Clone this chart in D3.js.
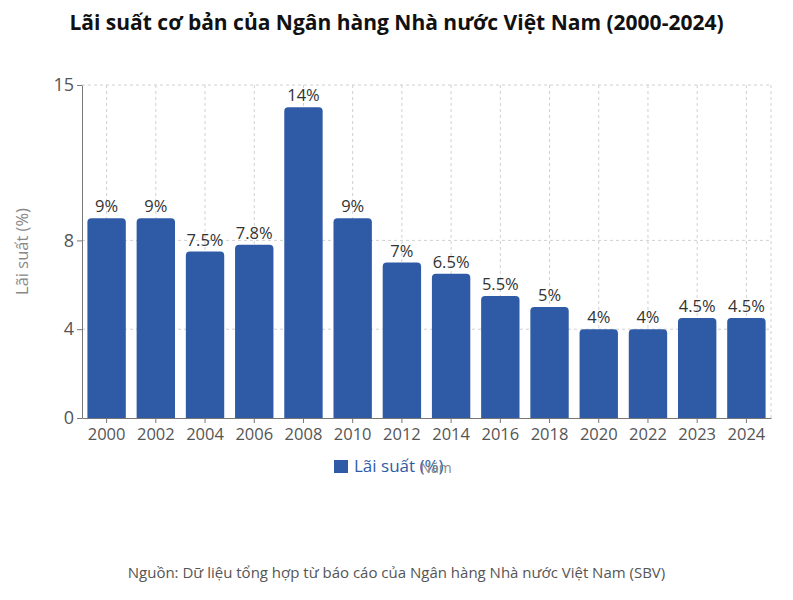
<!DOCTYPE html>
<html>
<head>
<meta charset="utf-8">
<script src="https://cdn.jsdelivr.net/npm/d3@7"></script>
<style>
  body { margin: 0; background: #fff; }
  text { font-family: "Open Sans", "Noto Sans", sans-serif; }
</style>
</head>
<body>
<div id="chart"></div>
<script>
const years = ["2000", "2002", "2004", "2006", "2008", "2010", "2012", "2014", "2016", "2018", "2020", "2022", "2023", "2024"];
const rates = [9, 9, 7.5, 7.8, 14, 9, 7, 6.5, 5.5, 5, 4, 4, 4.5, 4.5];
const yTicks = [0, 4, 8, 15];

const width = 793;
const height = 600;
const margin = { top: 85, right: 22, bottom: 182, left: 82 };
const barColor = "#2f5ba6";

const svg = d3.select("#chart")
  .append("svg")
  .attr("width", width)
  .attr("height", height);

// Title
svg.append("text")
  .attr("x", width / 2)
  .attr("y", 30)
  .attr("text-anchor", "middle")
  .attr("font-size", "21px")
  .attr("font-weight", "bold")
  .attr("fill", "#111")
  .text("Lãi suất cơ bản của Ngân hàng Nhà nước Việt Nam (2000-2024)");

const x = d3.scaleBand()
  .domain(years)
  .range([margin.left, width - margin.right])
  .paddingInner(0.22)
  .paddingOuter(0.11);

const y = d3.scaleLinear()
  .domain([0, 15])
  .range([height - margin.bottom, margin.top]);

const grid = svg.append("g").attr("stroke", "#d0d0d0").attr("stroke-dasharray", "3,3");

// horizontal grid
yTicks.filter((t) => t > 0).forEach((t) => {
  grid.append("line")
    .attr("x1", margin.left).attr("x2", width - margin.right)
    .attr("y1", y(t)).attr("y2", y(t));
});
// vertical grid
years.forEach((yr) => {
  const cx = x(yr) + x.bandwidth() / 2;
  grid.append("line")
    .attr("x1", cx).attr("x2", cx)
    .attr("y1", margin.top).attr("y2", y(0));
});
grid.append("line")
  .attr("x1", width - margin.right).attr("x2", width - margin.right)
  .attr("y1", margin.top).attr("y2", y(0));

// Bars with rounded top corners
const r = 4;
const barPath = (x0, y0, w, h) =>
  `M${x0},${y0 + h}V${y0 + r}Q${x0},${y0} ${x0 + r},${y0}H${x0 + w - r}Q${x0 + w},${y0} ${x0 + w},${y0 + r}V${y0 + h}Z`;

svg.append("g")
  .selectAll("path")
  .data(years)
  .join("path")
  .attr("fill", barColor)
  .attr("d", (d, i) => barPath(x(d), y(rates[i]), x.bandwidth(), y(0) - y(rates[i])));

// Value labels
svg.append("g")
  .selectAll("text")
  .data(years)
  .join("text")
  .attr("x", (d) => x(d) + x.bandwidth() / 2)
  .attr("y", (d, i) => y(rates[i]) - 6)
  .attr("text-anchor", "middle")
  .attr("font-size", "16.5px")
  .attr("fill", "#333")
  .text((d, i) => rates[i] + "%");

// Axes
const xAxis = svg.append("g")
  .attr("transform", `translate(0,${y(0)})`)
  .call(d3.axisBottom(x).tickSize(5).tickSizeOuter(0));
xAxis.selectAll("text").attr("font-size", "16.5px").attr("fill", "#555").attr("dy", "0.85em");

const yAxis = svg.append("g")
  .attr("transform", `translate(${margin.left},0)`)
  .call(d3.axisLeft(y).tickValues(yTicks).tickSize(5).tickSizeOuter(0));
yAxis.selectAll("text").attr("font-size", "18px").attr("fill", "#555");

[xAxis, yAxis].forEach((a) => {
  a.select(".domain").attr("stroke", "#777");
  a.selectAll(".tick line").attr("stroke", "#777");
});

// Y axis title
svg.append("text")
  .attr("transform", `translate(28,${(y(0) + y(15)) / 2}) rotate(-90)`)
  .attr("text-anchor", "middle")
  .attr("font-size", "16.5px")
  .attr("fill", "#888")
  .text("Lãi suất (%)");

// Legend
svg.append("rect")
  .attr("x", 334).attr("y", 460)
  .attr("width", 14).attr("height", 13)
  .attr("fill", barColor);
svg.append("text")
  .attr("x", 354).attr("y", 472)
  .attr("font-size", "17px")
  .attr("fill", barColor)
  .text("Lãi suất (%)");

// X axis title (overlaps the legend as in the source)
svg.append("text")
  .attr("x", 436)
  .attr("y", 473)
  .attr("text-anchor", "middle")
  .attr("font-size", "14px")
  .attr("fill", "#888")
  .text("Năm");

// Source
svg.append("text")
  .attr("x", width / 2)
  .attr("y", 578)
  .attr("text-anchor", "middle")
  .attr("font-size", "15px")
  .attr("fill", "#555")
  .text("Nguồn: Dữ liệu tổng hợp từ báo cáo của Ngân hàng Nhà nước Việt Nam (SBV)");
</script>
</body>
</html>
